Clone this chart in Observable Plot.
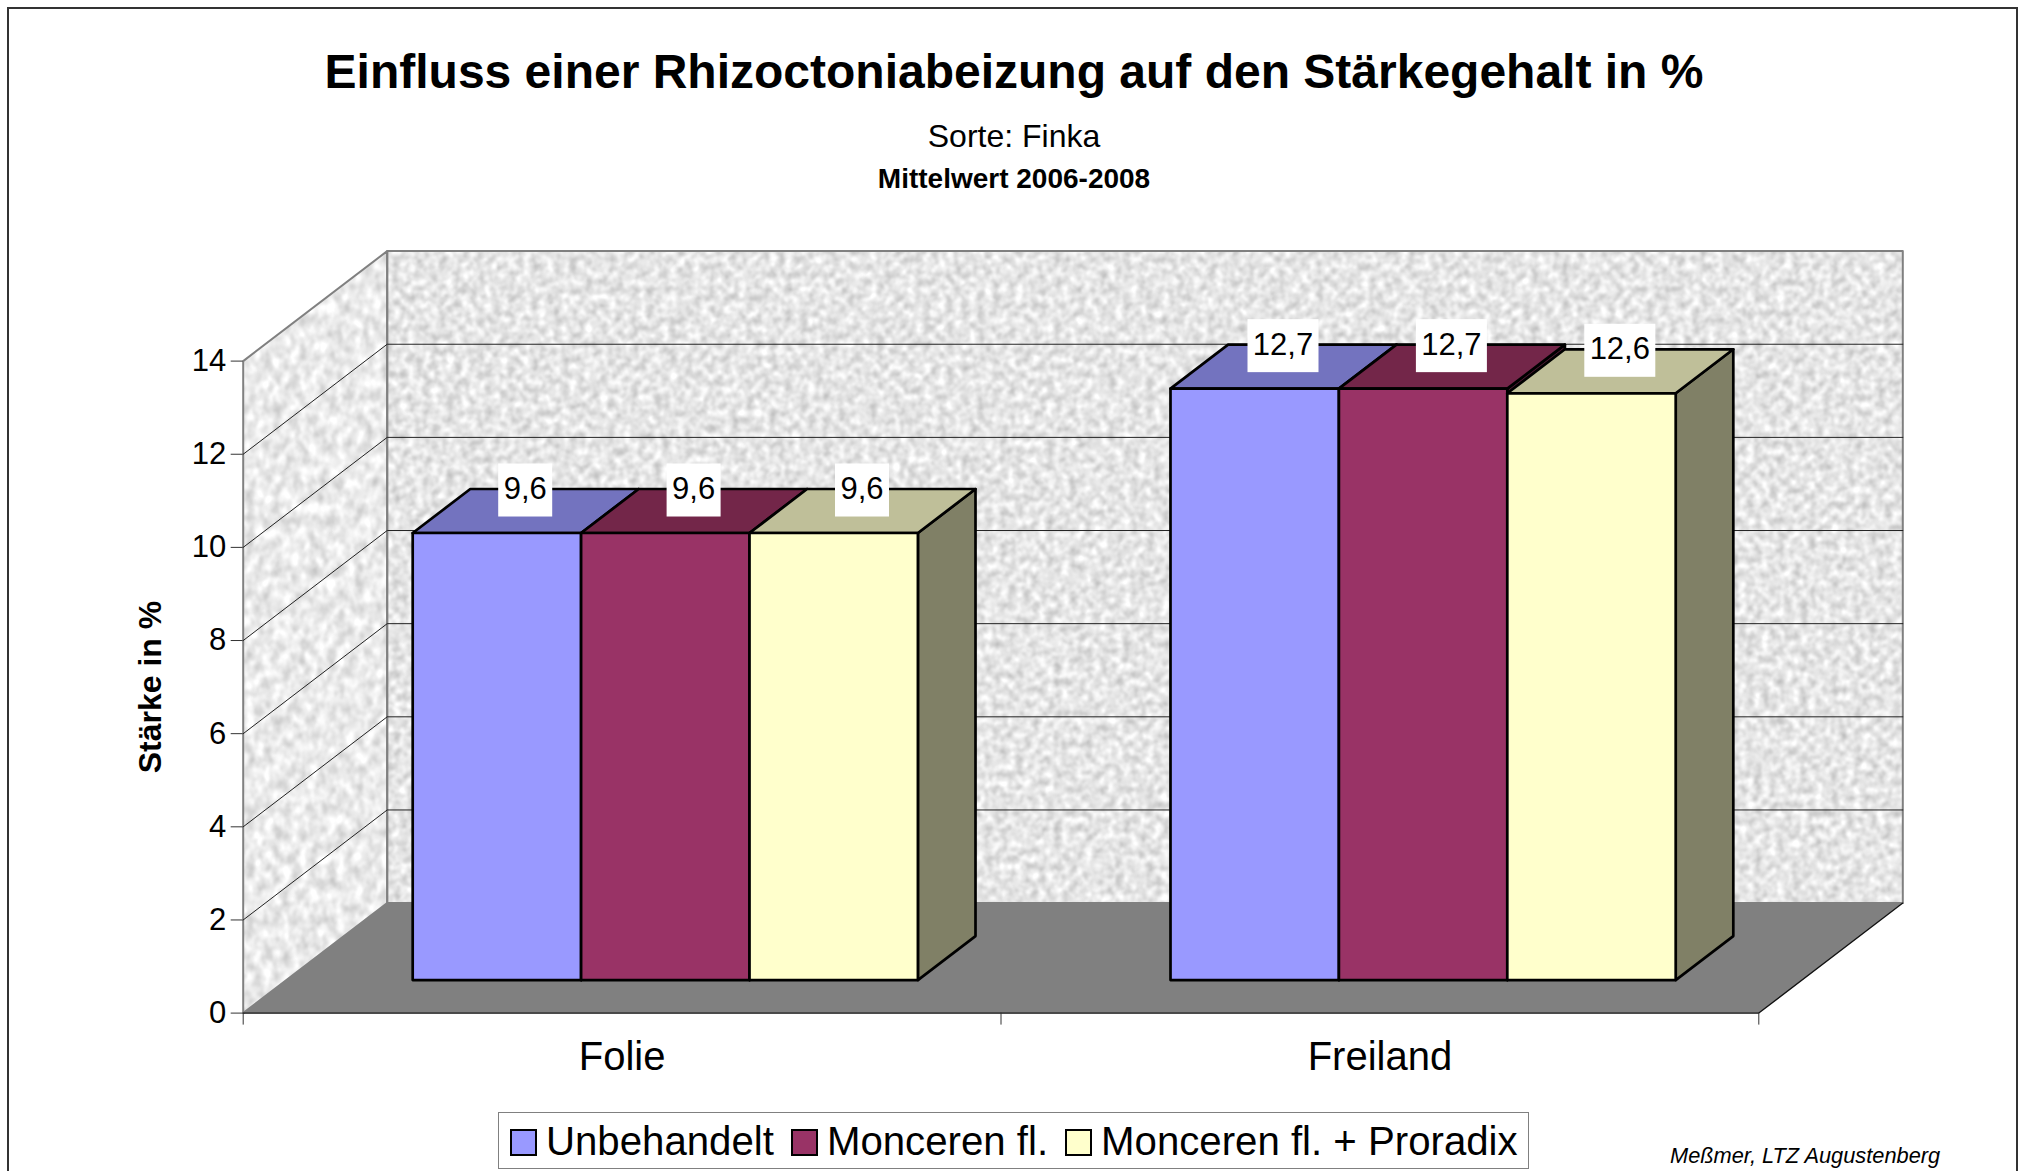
<!DOCTYPE html>
<html lang="de">
<head>
<meta charset="utf-8">
<title>Einfluss einer Rhizoctoniabeizung auf den Stärkegehalt in %</title>
<script src="https://cdn.jsdelivr.net/npm/d3@7"></script>
<script src="https://cdn.jsdelivr.net/npm/@observablehq/plot@0.6"></script>
<style>
  html, body { margin: 0; padding: 0; background: #fff; overflow: hidden; }
  #page { position: relative; width: 2026px; height: 1171px; overflow: hidden; font-family: "Liberation Sans", Arial, sans-serif; color: #000; }
  #frame { position: absolute; left: 7px; top: 7px; width: 2007px; height: 1200px; border: 2px solid #333; }
  .line { position: absolute; left: 0; width: 2028px; text-align: center; white-space: nowrap; }
  #title { top: 40px; font-size: 48px; line-height: 64px; font-weight: bold; }
  #sub1 { top: 116px; font-size: 32px; line-height: 40px; }
  #sub2 { top: 162px; font-size: 28px; line-height: 34px; font-weight: bold; }
  #chart { position: absolute; left: 0; top: 240px; }
  #legend { position: absolute; left: 498px; top: 1112px; width: 1031px; height: 57px; border: 1.5px solid #808080; background: #fff; box-sizing: border-box; display: flex; align-items: center; padding-left: 11px; padding-top: 3px; font-size: 40.2px; white-space: nowrap; }
  #legend .sw { width: 23px; height: 23px; border: 2px solid #000; margin-right: 9px; flex: none; }
  #legend .it { display: flex; align-items: center; margin-right: 17px; }
  #credit { position: absolute; left: 1670px; top: 1143px; font-size: 21.8px; line-height: 26px; font-style: italic; white-space: nowrap; }
</style>
</head>
<body>
<svg width="0" height="0" style="position:absolute">
  <defs>
    <filter id="speckleBack" x="0" y="0" width="1" height="1" color-interpolation-filters="sRGB">
      <feTurbulence type="fractalNoise" baseFrequency="0.13" numOctaves="3" seed="4"/>
      <feGaussianBlur stdDeviation="0.8"/>
      <feColorMatrix type="matrix" values="0.42 0 0 0 0.69  0.42 0 0 0 0.69  0.42 0 0 0 0.69  0 0 0 0 1"/>
      <feComposite operator="in" in2="SourceAlpha"/>
    </filter>
    <filter id="speckleSide" x="0" y="0" width="1" height="1" color-interpolation-filters="sRGB">
      <feTurbulence type="fractalNoise" baseFrequency="0.11 0.08" numOctaves="3" seed="9"/>
      <feGaussianBlur stdDeviation="1"/>
      <feColorMatrix type="matrix" values="0.38 0 0 0 0.73  0.38 0 0 0 0.73  0.38 0 0 0 0.73  0 0 0 0 1"/>
      <feComposite operator="in" in2="SourceAlpha"/>
    </filter>
  </defs>
</svg>
<div id="page">
  <div id="frame"></div>
  <div class="line" id="title"></div>
  <div class="line" id="sub1"></div>
  <div class="line" id="sub2"></div>
  <div id="chart"></div>
  <div id="legend"></div>
  <div id="credit"></div>
</div>
<script>
const titleText = "Einfluss einer Rhizoctoniabeizung auf den Stärkegehalt in %";
const subtitleText = "Sorte: Finka";
const periodText = "Mittelwert 2006-2008";
const creditText = "Meßmer, LTZ Augustenberg";
const yLabelText = "Stärke in %";

const categories = ["Folie", "Freiland"];
const seriesNames = ["Unbehandelt", "Monceren fl.", "Monceren fl. + Proradix"];
const unbehandelt = [9.6, 12.7];
const moncerenFl = [9.6, 12.7];
const moncerenProradix = [9.6, 12.6];
const yTicks = [0, 2, 4, 6, 8, 10, 12, 14];

const frontColors = ["#9999ff", "#993366", "#ffffcc"];
const topColors = ["#7373bf", "#732649", "#bfbf99"];
const sideColors = ["#4d4d80", "#4d1a33", "#808066"];

const seriesValues = [unbehandelt, moncerenFl, moncerenProradix];

// Oblique projection of the 3D chart box onto the x and y scales.
const yMax = 14;
const xMax = categories.length;
const svgTop = 240, svgHeight = 860;
const plotLeft = 242.7, plotRight = 1758.3, y0Px = 1012.6 - svgTop, yTopPx = 360.6 - svgTop;
const pxPerX = (plotRight - plotLeft) / xMax;
const pxPerY = (y0Px - yTopPx) / yMax;
const depthX = 144 / pxPerX, depthY = 110 / pxPerY;
const px = (x, y, z) => ({X: x + z * depthX, Y: y + z * depthY});

let polyId = 0;
function polygon(corners, extra) {
  const id = polyId++;
  return corners.map(([x, y, z]) => ({...px(x, y, z), id, ...extra}));
}

// Walls and floor
const backWall = polygon([[0, 0, 1], [xMax, 0, 1], [xMax, yMax, 1], [0, yMax, 1]]);
const leftWall = polygon([[0, 0, 0], [0, 0, 1], [0, yMax, 1], [0, yMax, 0]]);
const floor = polygon([[0, 0, 0], [xMax, 0, 0], [xMax, 0, 1], [0, 0, 1]]);

// Gridlines run along the side wall and across the back wall
const gridLines = yTicks.filter(t => t > 0 && t < yMax).flatMap(t =>
  polygon([[0, t, 0], [0, t, 1], [xMax, t, 1]]));

// Bars
const barWidth = 2 / 9, groupGap = 1 / 6, z0 = 0.3, z1 = 0.7;
const faces = [];
const labels = [];
categories.forEach((c, i) => {
  seriesValues.forEach((vals, j) => {
    const v = vals[i];
    const a = i + groupGap + j * barWidth, b = a + barWidth;
    faces.push(...polygon([[b, 0, z0], [b, 0, z1], [b, v, z1], [b, v, z0]], {fill: sideColors[j]}));
    faces.push(...polygon([[a, v, z0], [b, v, z0], [b, v, z1], [a, v, z1]], {fill: topColors[j]}));
    faces.push(...polygon([[a, 0, z0], [b, 0, z0], [b, v, z0], [a, v, z0]], {fill: frontColors[j]}));
    const text = String(v).replace(".", ",");
    const cx = (a + b) / 2 + 0.5 * depthX;
    const cy = v + z1 * depthY;
    const halfW = (text.length > 3 ? 35.5 : 27) / pxPerX;
    const halfH = 26.5 / pxPerY;
    const shiftY = 1.5 / pxPerY;
    labels.push({cx, cy, text, x1: cx - halfW, x2: cx + halfW, y1: cy - halfH - shiftY, y2: cy + halfH - shiftY});
  });
});

const edgeGrey = "#808080";
const chart = Plot.plot({
  width: 2026,
  height: svgHeight,
  marginLeft: plotLeft,
  marginRight: 2026 - plotRight,
  marginTop: yTopPx,
  marginBottom: svgHeight - y0Px,
  style: {fontFamily: "'Liberation Sans', Arial, sans-serif", background: "transparent", overflow: "visible", color: "#000"},
  x: {type: "linear", domain: [0, xMax]},
  y: {type: "linear", domain: [0, yMax]},
  color: {type: "identity"},
  marks: [
    Plot.line(backWall, {x: "X", y: "Y", z: "id", curve: "linear-closed", fill: "#e8e8e8", stroke: "none", imageFilter: "url(#speckleBack)"}),
    Plot.line(leftWall, {x: "X", y: "Y", z: "id", curve: "linear-closed", fill: "#eee", stroke: "none", imageFilter: "url(#speckleSide)"}),
    Plot.line(floor, {x: "X", y: "Y", z: "id", curve: "linear-closed", fill: "#808080", stroke: "none"}),
    Plot.line(backWall, {x: "X", y: "Y", z: "id", curve: "linear-closed", stroke: edgeGrey, strokeWidth: 2}),
    Plot.line(leftWall, {x: "X", y: "Y", z: "id", curve: "linear-closed", stroke: edgeGrey, strokeWidth: 2}),
    Plot.line(gridLines, {x: "X", y: "Y", z: "id", stroke: "#222", strokeWidth: 1}),
    Plot.line(polygon([[0, 0, 0], [xMax, 0, 0], [xMax, 0, 1]]), {x: "X", y: "Y", z: "id", stroke: "#111", strokeWidth: 1.3}),
    Plot.line(faces, {x: "X", y: "Y", z: "id", curve: "linear-closed", fill: "fill", stroke: "#000", strokeWidth: 2.7}),
    Plot.rect(labels, {x1: "x1", x2: "x2", y1: "y1", y2: "y2", fill: "#fff", stroke: "none"}),
    Plot.text(labels, {x: "cx", y: "cy", text: "text", fontSize: 31, fill: "#000", dx: -0.5}),
    Plot.axisY({ticks: yTicks, anchor: "left", label: null, tickSize: 12, tickPadding: 5, fontSize: 31, stroke: "#333", tickFormat: d => String(d)}),
    Plot.axisX({ticks: [0, 1, 2], anchor: "bottom", label: null, tickSize: 12, stroke: "#333", tickFormat: () => ""}),
    Plot.axisX({ticks: categories.map((c, i) => i + 0.5), anchor: "bottom", label: null, tickSize: 0, tickPadding: 28.5, fontSize: 40, tickFormat: d => categories[Math.floor(d)]}),
    Plot.text([yLabelText], {x: 0, y: yMax / 2, dx: -92, dy: 0, rotate: -90, fontSize: 32, fontWeight: "bold", fill: "#000"})
  ]
});
document.getElementById("chart").appendChild(chart);

document.getElementById("title").textContent = titleText;
document.getElementById("sub1").textContent = subtitleText;
document.getElementById("sub2").textContent = periodText;
document.getElementById("credit").textContent = creditText;
const legend = document.getElementById("legend");
seriesNames.forEach((name, i) => {
  const it = document.createElement("div");
  it.className = "it";
  const sw = document.createElement("div");
  sw.className = "sw";
  sw.style.background = frontColors[i];
  const t = document.createElement("span");
  t.textContent = name;
  it.append(sw, t);
  legend.append(it);
});
</script>
</body>
</html>
